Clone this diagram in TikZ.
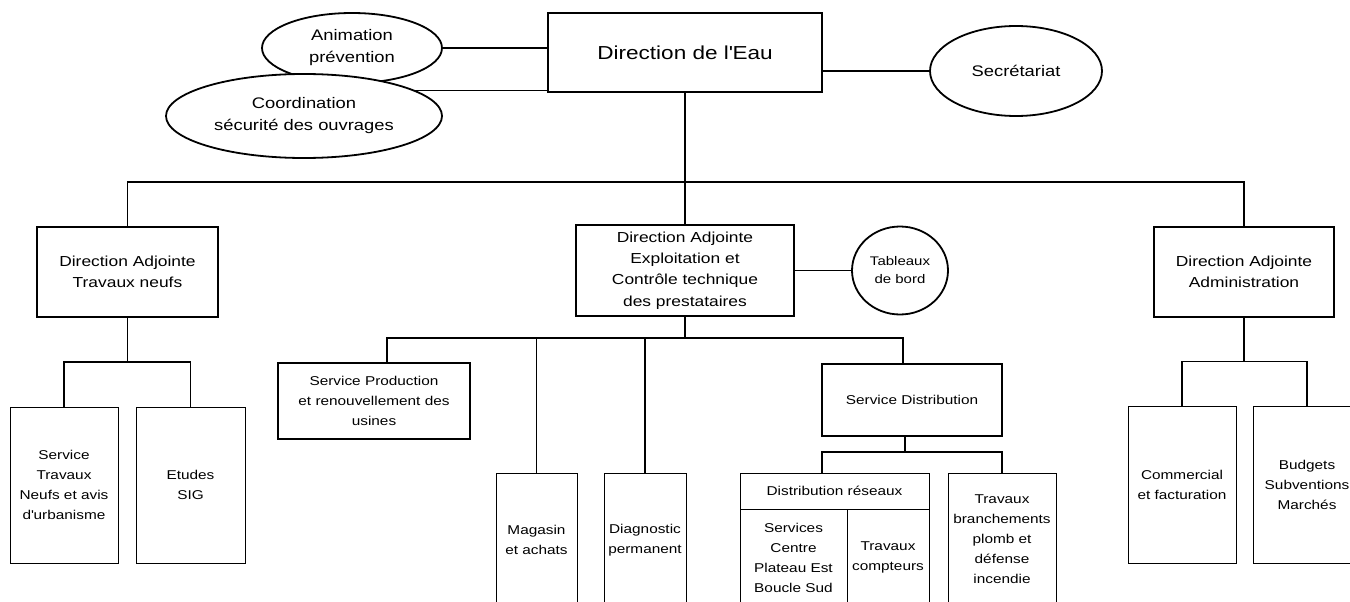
\documentclass[tikz,border=0pt]{standalone}
\usepackage{fontspec}
\setmainfont{Liberation Sans}[FakeStretch=1.2]
\usetikzlibrary{shapes.geometric}

\begin{document}
\begin{tikzpicture}[x=1pt,y=-1pt,
  bigbox/.style={draw,line width=2.4pt,inner sep=0pt,align=center,font=\fontsize{18.8}{22}\selectfont},
  dabox/.style={draw,line width=2.4pt,inner sep=0pt,align=center,font=\fontsize{14.5}{21.3}\selectfont},
  unit/.style={draw,line width=1pt,inner sep=0pt,align=center,font=\fontsize{12.8}{20}\selectfont},
  thickunit/.style={unit,line width=2.4pt},
  bubble/.style={ellipse,draw,line width=1.8pt,inner sep=0pt,align=center,fill=white,font=\fontsize{15.3}{22}\selectfont},
  link/.style={line width=1.3pt}]
  \clip (0,0) rectangle (1350,602);
  \node[bigbox,minimum width=274pt,minimum height=79pt] (eau) at (685,52.5) {Direction de l\textquotesingle Eau};
  \node[bubble,minimum width=180pt,minimum height=70pt] (anim) at (352,48) {Animation\\pr\'evention};
  \node[bubble,minimum width=276pt,minimum height=84pt] (coord) at (304,116) {Coordination\\s\'ecurit\'e des ouvrages};
  \node[bubble,minimum width=172pt,minimum height=90pt] (sec) at (1016,71) {Secr\'etariat};
  \draw[link] (anim.east) -- (anim.east -| eau.west);
  \draw[link] (coord.13) -- (coord.13 -| eau.west);
  \draw[link] (sec.west) -- (sec.west -| eau.east);

  \node[dabox,minimum width=181pt,minimum height=90pt] (datrav) at (127.5,272) {Direction Adjointe\\Travaux neufs};
  \node[dabox,minimum width=218pt,minimum height=91pt] (daexp) at (685,270.5) {Direction Adjointe\\Exploitation et\\Contr\^ole technique\\des prestataires};
  \node[dabox,minimum width=180pt,minimum height=90pt] (daadm) at (1244,272) {Direction Adjointe\\Administration};
  \node[bubble,minimum width=96pt,minimum height=88pt,font=\fontsize{12.5}{18}\selectfont] (tab) at (900,270.5) {Tableaux\\de bord};
  \coordinate (top) at (685,182);
  \draw[link] (eau.south) -- (daexp.north);
  \draw[link] (datrav.north) |- (top) -| (daadm.north);
  \draw[link] (daexp.east) -- (tab.west);

  \node[unit,minimum width=108pt,minimum height=156pt] (stn) at (64,485) {Service\\Travaux\\Neufs et avis\\d\textquotesingle urbanisme};
  \node[unit,minimum width=109pt,minimum height=156pt] (sig) at (190.5,485) {Etudes\\SIG};
  \coordinate (trav) at (127.5,362);
  \draw[link] (datrav.south) -- (trav);
  \draw[link] (stn.north) |- (trav) -| (sig.north);

  \node[thickunit,minimum width=192pt,minimum height=76pt] (prod) at (374,401) {Service Production\\et renouvellement des\\usines};
  \node[unit,minimum width=81pt,minimum height=134pt] (mag) at (536.5,540) {Magasin\\et achats};
  \node[unit,minimum width=82pt,minimum height=134pt] (diag) at (645,540) {Diagnostic\\permanent};
  \node[thickunit,minimum width=180pt,minimum height=72pt] (dist) at (912,400) {Service Distribution};
  \coordinate (expl) at (685,338);
  \draw[link] (daexp.south) -- (expl);
  \draw[link] ([xshift=13pt]prod.north) |- (expl) -| ([xshift=-9pt]dist.north);
  \draw[link] (mag.north) -- (mag.north |- expl);
  \draw[link] (diag.north) -- (diag.north |- expl);

  \node[unit,minimum width=189pt,minimum height=36pt] (reshead) at (834.5,491) {Distribution r\'eseaux};
  \node[unit,minimum width=107pt,minimum height=97pt] (resa) at (793.5,557.5) {Services\\Centre\\Plateau Est\\Boucle Sud};
  \node[unit,minimum width=82pt,minimum height=97pt] (resb) at (888,557.5) {Travaux\\compteurs};
  \node[unit,minimum width=108pt,minimum height=133pt] (brch) at (1002,539.5) {Travaux\\branchements\\plomb et\\d\'efense\\incendie};
  \coordinate (distr) at (905,452);
  \draw[link] ([xshift=-7pt]dist.south) -- (distr);
  \draw[link] ([xshift=-12.5pt]reshead.north) |- (distr) -| (brch.north);

  \node[unit,minimum width=108pt,minimum height=157pt] (comm) at (1182,484.5) {Commercial\\et facturation};
  \node[unit,minimum width=108pt,minimum height=157pt] (budg) at (1307,484.5) {Budgets\\Subventions\\March\'es};
  \coordinate (adm) at (1244,361.5);
  \draw[link] (daadm.south) -- (adm);
  \draw[link] (comm.north) |- (adm) -| (budg.north);
\end{tikzpicture}
\end{document}
